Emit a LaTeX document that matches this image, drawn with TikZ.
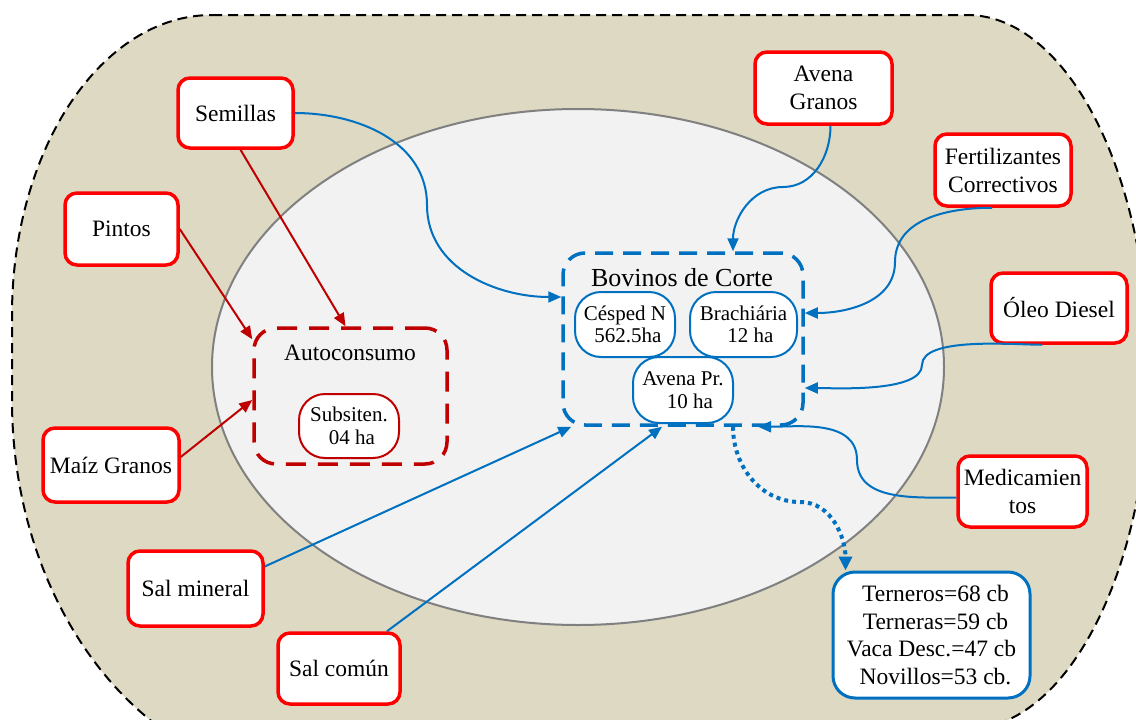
\documentclass[tikz,border=0pt]{standalone}
\usepackage{fontspec}
\setmainfont{Liberation Serif}
\usetikzlibrary{arrows.meta}
\definecolor{beige}{HTML}{DDD9C3}
\definecolor{lgray}{HTML}{F2F2F2}
\definecolor{bblue}{HTML}{0070C0}
\definecolor{dred}{HTML}{C00000}
\definecolor{ringgray}{HTML}{808080}
\begin{document}
\begin{tikzpicture}[x=1pt,y=-1pt,
  redbox/.style={draw=red,line width=3.5pt,rounded corners=12pt,fill=white,align=center,
    font=\fontsize{23.5}{28}\selectfont,inner sep=0pt},
  smallb/.style={draw=bblue,line width=2pt,fill=white,rounded corners=26pt,align=center,
    font=\fontsize{21}{22.5}\selectfont,inner sep=0pt,minimum width=100pt,minimum height=65pt},
  groupb/.style={line width=3.5pt,rounded corners=22pt,inner sep=0pt},
  bluearrow/.style={draw=bblue,line width=2pt,-{Triangle[length=13pt,width=11pt]}},
  redarrow/.style={draw=dred,line width=2pt,-{Triangle[length=13pt,width=11pt]}}]
\useasboundingbox (0,0) rectangle (1136,720);
\begin{scope}
\clip (0,0) rectangle (1136,720);
\draw[fill=beige,line width=2pt,dash pattern=on 10pt off 6pt]
  (212,15) -- (967,15)
  .. controls (1067.5,15) and (1149,174.8) .. (1149,372)
  .. controls (1149,569.2) and (1067.5,729) .. (967,729)
  -- (312,780)
  .. controls (146.3,780) and (12,609.9) .. (12,400)
  -- (12,315)
  .. controls (12,149.3) and (101.5,15) .. (212,15) -- cycle;
\end{scope}
\draw[draw=ringgray,fill=lgray,line width=2pt] (578,367) ellipse [x radius=366pt, y radius=258pt];

% group boxes
\node[groupb,draw=bblue,dash pattern=on 18pt off 10pt,minimum width=240pt,minimum height=172pt] (bov) at (683,339) {};
\node[font=\fontsize{26}{30}\selectfont] (bovt) at (682,278) {Bovinos de Corte};
\node[groupb,draw=dred,dash pattern=on 20pt off 12pt,minimum width=193pt,minimum height=136pt] (auto) at (350.5,396) {};
\node[font=\fontsize{23.5}{28}\selectfont] (autot) at (350,353) {Autoconsumo};

% inner nodes
\node[smallb] (cesp) at (625,324.5) {Césped N\\\hspace*{6pt}562.5ha};
\node[smallb,minimum width=107pt] (brach) at (743.5,324.5) {Brachiária\\\hspace*{14pt}12 ha};
\node[smallb,minimum height=66pt] (avpr) at (683,390) {Avena Pr.\\\hspace*{14pt}10 ha};
\node[smallb,draw=dred,minimum height=64pt] (subs) at (349,426) {Subsiten.\\\hspace*{6pt}04 ha};

% red boxes
\node[redbox,minimum width=115pt,minimum height=70pt] (sem) at (235.5,113) {Semillas};
\node[redbox,minimum width=113pt,minimum height=72pt] (pin) at (121.5,229) {Pintos};
\node[redbox,minimum width=136pt,minimum height=74pt] (mz) at (111,465) {Maíz Granos};
\node[redbox,minimum width=135pt,minimum height=75pt] (sm) at (195.5,588.5) {Sal mineral};
\node[redbox,minimum width=122pt,minimum height=71pt] (sc) at (339,668.5) {Sal común};
\node[redbox,minimum width=137pt,minimum height=72pt] (avg) at (823.5,88) {Avena\\Granos};
\node[redbox,minimum width=136pt,minimum height=72pt] (fert) at (1003,170) {Fertilizantes\\Correctivos};
\node[redbox,minimum width=136pt,minimum height=70pt] (oleo) at (1059,308) {Óleo Diesel};
\node[redbox,minimum width=129pt,minimum height=71pt] (med) at (1022.5,491.5) {Medicamien\\tos};
\node[draw=bblue,line width=3pt,rounded corners=22pt,fill=white,minimum width=197pt,minimum height=126pt,
  align=center,inner sep=0pt,font=\fontsize{23.5}{27.5}\selectfont] (tern) at (931.5,635)
  {\hspace*{8pt}Terneros=68 cb\\\hspace*{8pt}Terneras=59 cb\\Vaca Desc.=47 cb\\\hspace*{8pt}Novillos=53 cb.};

% red connectors
\draw[redarrow] ([xshift=5pt]sem.south) -- ([xshift=-5pt]auto.north);
\draw[redarrow] (pin.east) -- ([yshift=-13pt]auto.north west);
\draw[redarrow] ([yshift=8pt]mz.east) -- ([yshift=-4pt]auto.west);

% blue connectors
\draw[bluearrow] (sem.east) to[out=0,in=90] (427,205) to[out=-90,in=180] ([yshift=42pt]bov.west);
\draw[bluearrow] ([xshift=7pt]avg.south) to[out=-90,in=0] (783,187) to[out=180,in=90] ([xshift=50pt]bov.north);
\draw[bluearrow] ([xshift=-11pt]fert.south) to[out=180,in=90] (895,262) to[out=-90,in=0] ([yshift=26pt]bov.east);
\draw[bluearrow] ([xshift=-17pt]oleo.south) to[out=180,in=90,looseness=0.6] (922,365) to[out=-90,in=0,looseness=0.6] ([yshift=-49pt]bov.east);
\draw[bluearrow] ([yshift=-6pt]med.west) to[out=180,in=-90] (857,460) to[out=90,in=0] ([xshift=75pt]bov.south);
\draw[bluearrow] ([yshift=22pt]sm.east) -- ([xshift=10pt]bov.south west);
\draw[bluearrow] ([xshift=48pt]sc.north) -- ([xshift=-21pt]bov.south);
\draw[draw=bblue,line width=4pt,dash pattern=on 4pt off 4pt,-{Triangle[length=14pt,width=13pt]}]
  ([xshift=50pt]bov.south) to[out=-90,in=180] (800,502) to[out=0,in=90] ([xshift=-86pt]tern.north);
\end{tikzpicture}
\end{document}
